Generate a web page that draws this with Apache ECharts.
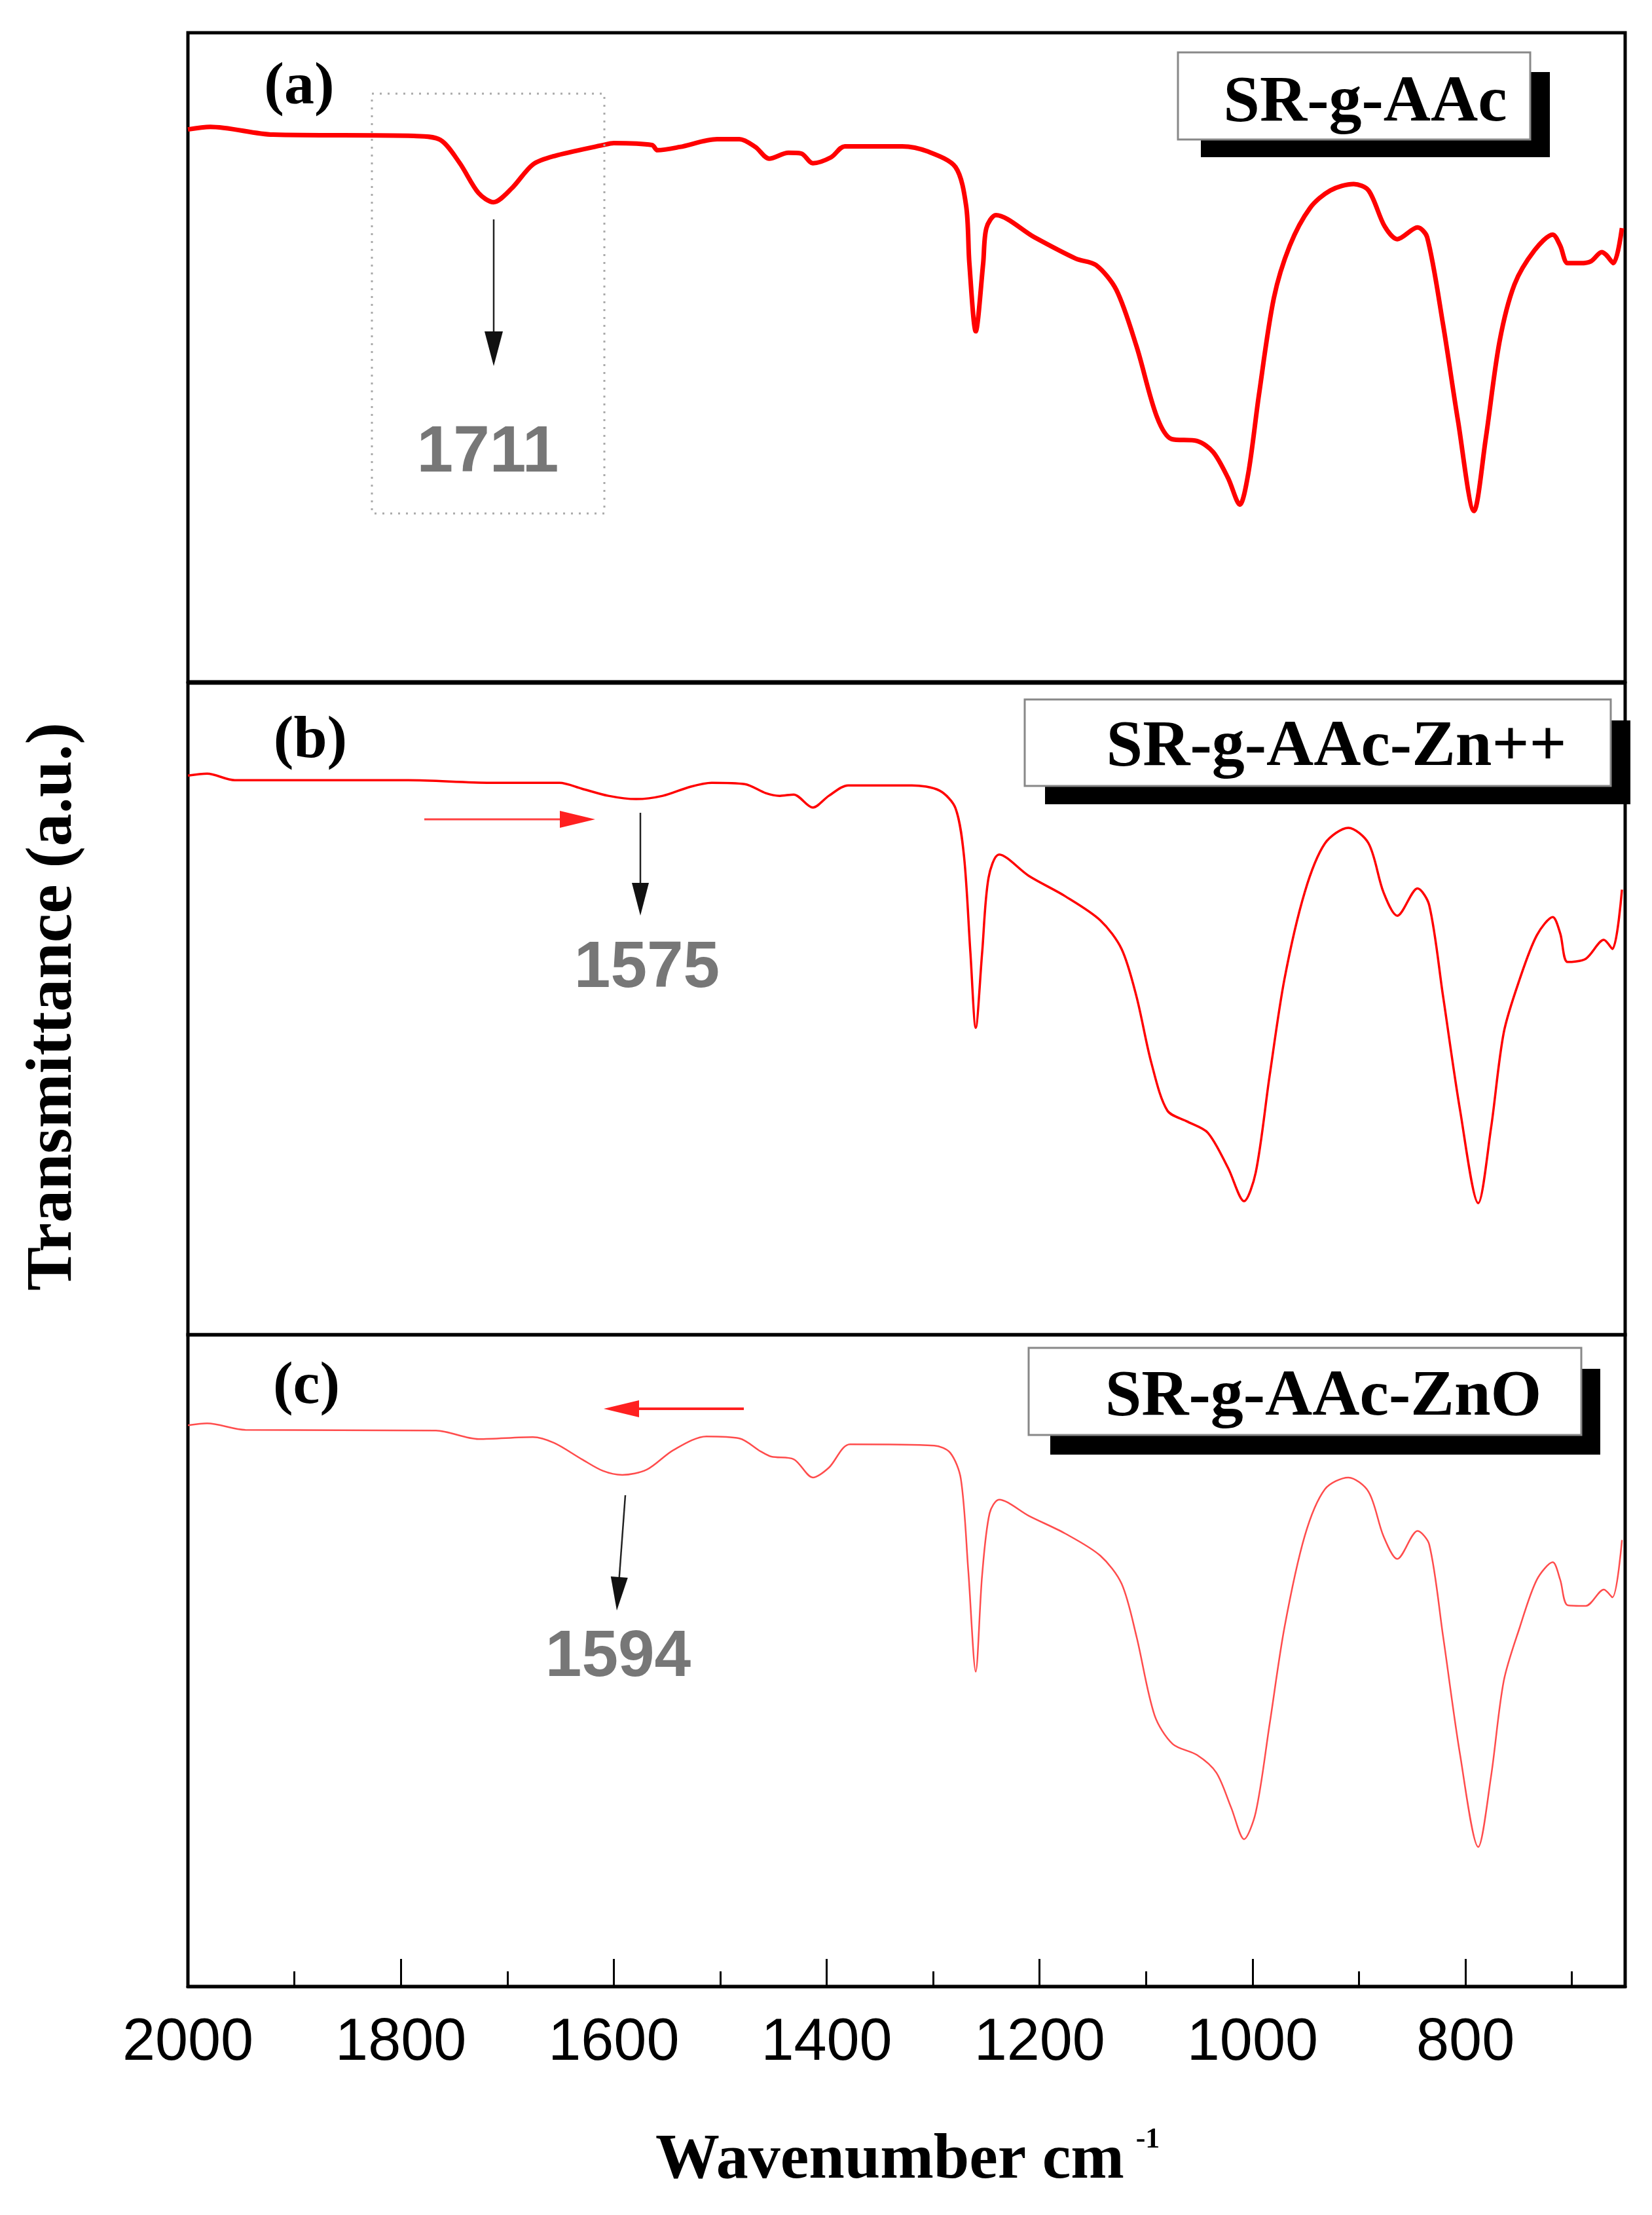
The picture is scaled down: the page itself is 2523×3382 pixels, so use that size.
<!DOCTYPE html>
<html>
<head>
<meta charset="utf-8">
<script src="https://cdn.jsdelivr.net/npm/echarts@6/dist/echarts.min.js"></script>
<style>html,body{margin:0;padding:0;background:#fff;}#c{width:2523px;height:3382px;}</style>
</head>
<body>
<div id="c"></div>
<script>
// Wavenumber (cm-1) and transmittance (a.u.)
const wavenumbersA = [2000,1979,1920,1788,1763,1745,1727,1713,1696,1676,1656,1610,1600,1564,1559,1538,1503,1482,1467,1454,1436,1424,1413,1396,1383,1329,1305,1279,1269,1266,1260,1253,1250,1241,1205,1166,1147,1128,1109,1090,1076,1052,1037,1023,1012,1004,994,980,965,946,927,905,891,876,864,845,836,821,807,792,781,768,754,735,718,711,704,692,682,672,668,661,653];
const transA = [85.1,85.5,84.3,84.1,83.5,80.0,75.3,73.9,76.0,79.7,81.0,82.7,83.0,82.7,81.9,82.4,83.6,83.6,82.4,80.6,81.5,81.4,79.9,80.8,82.5,82.5,81.7,79.3,73.3,64.5,54.0,64.5,69.9,71.9,68.5,65.2,64.2,60.4,51.7,40.9,37.4,37.1,35.4,31.4,27.3,32.1,44.2,59.1,67.2,73.0,75.7,76.7,75.7,70.2,68.2,70.0,68.5,55.0,40.2,26.3,37.4,52.4,61.2,66.5,68.9,67.2,64.5,64.5,64.8,66.2,65.8,64.5,69.9];

const wavenumbersB = [2000,1982,1956,1793,1716,1651,1630,1605,1579,1554,1528,1508,1477,1457,1444,1431,1413,1398,1380,1320,1294,1279,1271,1265,1260,1254,1248,1238,1210,1176,1143,1123,1109,1095,1080,1061,1042,1023,1008,997,984,970,951,932,910,891,877,864,845,834,821,805,788,776,764,749,733,718,711,704,687,670,662,653];
const transB = [85.8,86.1,85.1,85.1,84.7,84.7,83.8,82.7,82.2,82.7,84.1,84.7,84.5,83.1,82.7,82.9,80.9,82.7,84.3,84.3,83.5,80.8,73.4,58.6,47.1,58.6,70.1,73.7,70.4,67.3,63.6,59.2,51.9,41.7,34.4,32.7,31.0,25.6,20.5,24.9,39.7,54.6,67.9,75.4,77.8,75.4,67.9,64.3,68.5,65.9,51.9,34.4,20.2,31.7,46.4,54.6,61.3,64.1,61.6,57.2,57.7,60.6,59.2,68.3];

const wavenumbersC = [2000,1982,1946,1767,1727,1676,1656,1630,1610,1592,1569,1544,1513,1482,1462,1452,1431,1413,1398,1378,1299,1284,1274,1267,1260,1254,1247,1238,1210,1176,1143,1123,1109,1092,1075,1052,1034,1020,1008,997,984,970,951,932,910,891,877,864,845,834,821,805,788,776,764,749,733,718,711,704,687,670,662,653];
const transC = [86.1,86.4,85.4,85.3,84.0,84.3,83.4,80.9,79.1,78.5,79.3,82.3,84.4,84.1,82.1,81.3,80.9,78.1,79.6,83.2,83.0,81.9,77.9,63.8,48.3,63.1,72.6,74.7,72.2,69.5,66.1,61.8,53.7,41.6,37.2,35.5,32.8,27.4,22.6,26.7,40.2,55.1,69.1,76.3,78.1,75.9,69.1,65.6,69.9,67.8,53.7,35.5,21.4,32.2,46.9,55.1,62.4,65.1,62.4,58.5,58.4,60.9,59.7,68.5];

const seriesNames = ['SR-g-AAc', 'SR-g-AAc-Zn++', 'SR-g-AAc-ZnO'];
const panelLabels = ['(a)', '(b)', '(c)'];
const peakLabels = ['1711', '1575', '1594'];
const majorTickLabels = [2000, 1800, 1600, 1400, 1200, 1000, 800];
const majorTicks = [1800, 1600, 1400, 1200, 1000, 800];
const minorTicks = [1900, 1700, 1500, 1300, 1100, 900, 700];
const xMin = 650, xMax = 2000;

const zip = (w, t) => w.map((v, i) => [v, t[i]]);

const chart = echarts.init(document.getElementById('c'), null, {renderer: 'canvas'});

const gridBase = {left: 287, right: 41, show: true, borderColor: '#000', borderWidth: 5, backgroundColor: 'transparent'};
const grids = [
  Object.assign({top: 50, height: 991}, gridBase),
  Object.assign({top: 1043, height: 995}, gridBase),
  Object.assign({top: 2038, height: 995}, gridBase)
];

function hiddenX(gi) {
  return {type: 'value', gridIndex: gi, min: xMin, max: xMax, inverse: true,
    axisLine: {show: false}, axisTick: {show: false}, axisLabel: {show: false}, splitLine: {show: false}};
}
const xAxes = [
  hiddenX(0), hiddenX(1),
  {type: 'value', gridIndex: 2, min: xMin, max: xMax, inverse: true,
    axisLine: {show: true, onZero: false, lineStyle: {color: '#000', width: 5}},
    axisTick: {show: true, inside: true, length: 42, lineStyle: {color: '#000', width: 3}, customValues: majorTicks},
    axisLabel: {show: true, customValues: majorTickLabels, margin: 42, color: '#000', fontFamily: 'Liberation Sans', fontSize: 90,
      formatter: v => String(v)},
    splitLine: {show: false}},
  {type: 'value', gridIndex: 2, min: xMin, max: xMax, inverse: true, position: 'bottom',
    axisLine: {show: false, onZero: false},
    axisTick: {show: true, inside: true, length: 23, lineStyle: {color: '#000', width: 3}, customValues: minorTicks},
    axisLabel: {show: false}, splitLine: {show: false}}
];
const yAxes = [0, 1, 2].map(gi => ({type: 'value', gridIndex: gi, min: 0, max: 100, show: false, splitLine: {show: false}}));

const lineStyles = [
  {color: '#ff0000', width: 7},
  {color: '#ff0000', width: 3.5},
  {color: '#ff4c4c', width: 2.5}
];
const datasets = [zip(wavenumbersA, transA), zip(wavenumbersB, transB), zip(wavenumbersC, transC)];
const series = datasets.map((d, i) => ({
  name: seriesNames[i], type: 'line', xAxisIndex: i, yAxisIndex: i, data: d,
  showSymbol: false, smooth: 0.3, lineStyle: lineStyles[i], silent: true, animation: false, clip: false
}));

// legend-like boxes with black drop shadow
function labelBox(x, y, w, h, sx, sy, sw, sh, text, tx, ty) {
  return [
    {type: 'rect', shape: {x: sx, y: sy, width: sw, height: sh}, style: {fill: '#000'}, z: 10},
    {type: 'rect', shape: {x: x, y: y, width: w, height: h}, style: {fill: '#fff', stroke: '#888', lineWidth: 3}, z: 11},
    {type: 'text', x: tx, y: ty, style: {text: text, fill: '#000', font: 'bold 100px "Liberation Serif"', align: 'center', verticalAlign: 'middle'}, z: 12}
  ];
}
function txt(x, y, text, font, fill, extra) {
  return Object.assign({type: 'text', x: x, y: y, style: {text: text, font: font, fill: fill, align: 'center', verticalAlign: 'middle'}, z: 12}, extra || {});
}
function line(x1, y1, x2, y2, color, w) {
  return {type: 'line', shape: {x1: x1, y1: y1, x2: x2, y2: y2}, style: {stroke: color, lineWidth: w}, z: 12};
}
function tri(pts, color) {
  return {type: 'polygon', shape: {points: pts}, style: {fill: color}, z: 12};
}

const peakFont = 'bold 100px "Liberation Sans"';
const graphics = [].concat(
  labelBox(1799, 80, 538, 133, 1834, 110, 533, 130, seriesNames[0], 2085, 158),
  labelBox(1565, 1068, 895, 132, 1596, 1100, 894, 128, seriesNames[1], 2041, 1142),
  labelBox(1571, 2058, 844, 133, 1604, 2090, 840, 131, seriesNames[2], 2021, 2134),
  [
    txt(457, 134, panelLabels[0], 'bold 92px "Liberation Serif"', '#000'),
    txt(474, 1132, panelLabels[1], 'bold 92px "Liberation Serif"', '#000'),
    txt(468, 2118, panelLabels[2], 'bold 92px "Liberation Serif"', '#000'),
    // panel a annotation
    {type: 'rect', shape: {x: 568, y: 143, width: 355, height: 641}, style: {fill: 'none', stroke: '#aaa', lineWidth: 3, lineDash: [3, 9]}, z: 12},
    line(754, 335, 754, 510, '#222', 2.5),
    tri([[740, 506], [768, 506], [754, 559]], '#111'),
    txt(745, 692, peakLabels[0], peakFont, '#777'),
    // panel b annotation
    line(648, 1251, 860, 1251, '#ff4040', 3),
    tri([[855, 1238], [855, 1264], [909, 1251]], '#ff2020'),
    line(978, 1241, 978, 1352, '#222', 2.5),
    tri([[965, 1348], [991, 1348], [978, 1398]], '#111'),
    txt(988, 1479, peakLabels[1], peakFont, '#777'),
    // panel c annotation
    line(1136, 2151, 970, 2151, '#ff2020', 4),
    tri([[976, 2138], [976, 2164], [922, 2151]], '#ff2020'),
    line(955, 2283, 945.5, 2412, '#222', 2.5),
    tri([[958.8, 2409], [932.8, 2407], [942, 2459]], '#111'),
    txt(944, 2531, peakLabels[2], peakFont, '#777'),
    // axis titles
    txt(82, 1537, 'Transmittance (a.u.)', 'bold 100px "Liberation Serif"', '#000', {rotation: Math.PI / 2}),
    txt(1359, 3300, 'Wavenumber cm', 'bold 98px "Liberation Serif"', '#000'),
    txt(1753, 3268, '-1', 'bold 44px "Liberation Serif"', '#000')
  ]
);

chart.setOption({
  animation: false,
  backgroundColor: '#fff',
  grid: grids,
  xAxis: xAxes,
  yAxis: yAxes,
  series: series,
  graphic: {elements: graphics}
});
</script>
</body>
</html>
